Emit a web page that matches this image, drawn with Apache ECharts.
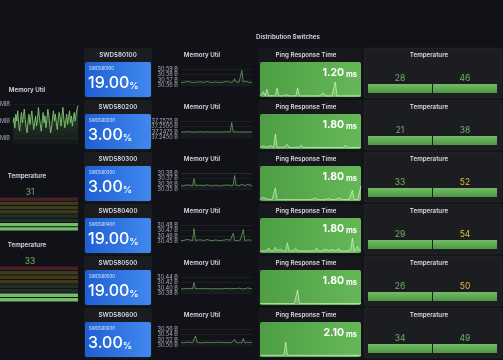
<!DOCTYPE html>
<html><head><meta charset="utf-8">
<script src="https://cdn.jsdelivr.net/npm/echarts@6/dist/echarts.min.js"></script>
<style>html,body{margin:0;padding:0;background:#111217;overflow:hidden}#c{width:503px;height:360px}</style>
</head><body><div id="c"></div>
<script>
// ---------------- data ----------------
const dashboardTitle = 'Distribution Switches';
const switchIds = ['SWD580100','SWD580200','SWD580300','SWD580400','SWD580500','SWD580600'];
const cpuUtil = [19, 3, 3, 19, 19, 3];            // %
const pingNow = [1.20, 1.80, 1.80, 1.80, 1.80, 2.10]; // ms
const tempA = [28, 21, 33, 29, 26, 34];
const tempB = [46, 38, 52, 54, 50, 49];
const tempThresholds = [50, 85];                  // yellow from 50, red from 85
const leftTemps = [31, 33];
const lcdCells = 8;
const lcdMax = 100;

// memory util axis ticks (min, step, decimals); 4 ticks each
const memMin = [30.56, 37.2450, 30.35, 30.45, 30.38, 30.50];
const memStep = [0.01, 0.0025, 0.01, 0.01, 0.02, 0.02];
const memDec = [2, 4, 2, 2, 2, 2];
const memTickCount = 4;

const mem1 = [30.565,30.566,30.565,30.566,30.567,30.565,30.566,30.565,30.565,30.566,30.565,30.567,30.566,30.565,30.566,30.565,30.565,30.566,30.567,30.566,30.565,30.566,30.565,30.565,30.566,30.567,30.565,30.566,30.565,30.566,30.566,30.565,30.567,30.566,30.565,30.565,30.566,30.572,30.566,30.565,30.565,30.566,30.588,30.566,30.565,30.567,30.566,30.565,30.566,30.565];
const mem2 = [37.2474,37.2475,37.2474,37.2475,37.2476,37.2474,37.2475,37.2474,37.2474,37.2475,37.2474,37.2476,37.2475,37.2474,37.2475,37.2474,37.2474,37.2475,37.2476,37.2475,37.2474,37.2475,37.2474,37.2474,37.2475,37.2476,37.2474,37.2475,37.2474,37.2475,37.2475,37.2474,37.2476,37.2475,37.2474,37.2520,37.2475,37.2474,37.2475,37.2474,37.2474,37.2475,37.2474,37.2475,37.2474,37.2476,37.2475,37.2474,37.2475,37.2474];
const mem3 = [30.356,30.357,30.356,30.357,30.358,30.356,30.357,30.356,30.356,30.370,30.356,30.358,30.357,30.356,30.357,30.356,30.356,30.357,30.358,30.357,30.356,30.357,30.356,30.356,30.357,30.358,30.356,30.357,30.356,30.357,30.357,30.356,30.358,30.357,30.356,30.356,30.357,30.376,30.357,30.356,30.356,30.357,30.359,30.357,30.356,30.358,30.359,30.356,30.357,30.356];
const mem4 = [30.451,30.452,30.451,30.452,30.453,30.451,30.452,30.451,30.451,30.474,30.451,30.453,30.452,30.451,30.452,30.451,30.451,30.452,30.453,30.452,30.451,30.452,30.451,30.451,30.452,30.453,30.451,30.452,30.451,30.452,30.452,30.451,30.453,30.452,30.451,30.451,30.465,30.451,30.452,30.451,30.451,30.452,30.451,30.472,30.451,30.453,30.452,30.451,30.452,30.451];
const mem5 = [30.396,30.397,30.396,30.397,30.398,30.396,30.397,30.396,30.396,30.420,30.396,30.398,30.397,30.396,30.397,30.396,30.396,30.397,30.398,30.397,30.396,30.397,30.396,30.396,30.397,30.398,30.396,30.397,30.396,30.397,30.397,30.396,30.398,30.397,30.396,30.396,30.397,30.396,30.397,30.396,30.399,30.397,30.396,30.397,30.396,30.398,30.400,30.396,30.397,30.396];
const mem6 = [30.509,30.510,30.509,30.510,30.511,30.509,30.510,30.509,30.509,30.510,30.535,30.511,30.510,30.509,30.510,30.509,30.509,30.510,30.511,30.510,30.509,30.510,30.509,30.509,30.510,30.511,30.509,30.510,30.509,30.510,30.510,30.509,30.511,30.510,30.509,30.509,30.510,30.522,30.510,30.509,30.509,30.510,30.509,30.525,30.509,30.511,30.510,30.509,30.510,30.509];
const memSeries = [mem1, mem2, mem3, mem4, mem5, mem6];

const ping1 = [1.2,1.3,8.7,1.2,13.0,1.3,1.2,1.5,1.2,1.3,15.2,1.2,1.3,1.2,1.5,3.3,1.2,1.3,1.2,1.2,1.3,1.2,15.2,1.3,1.2,1.2,1.5,1.2,1.3,1.2,2.6,1.2,1.3,1.2,1.2,1.5,1.2,6.5,1.3,1.2,1.2,1.3,1.2,1.5,26.0,1.3,1.2,1.2,1.3,1.2,1.5,1.2,3.3,1.2,1.3,1.2,1.2,1.3,1.2,1.2];
const ping2 = [1.8,1.9,4.4,1.8,1.9,1.8,4.6,1.9,1.8,24.0,1.9,1.8,2.0,1.8,1.9,1.8,6.6,1.8,1.9,1.8,1.8,1.9,1.8,2.0,5.5,1.8,1.9,1.8,1.8,1.9,1.8,2.0,1.8,1.9,1.8,1.8,1.9,1.8,4.4,1.8,1.9,1.8,1.8,2.0,1.8,1.9,1.8,1.8,1.9,1.8,5.5,1.8,1.9,1.8,1.8,1.9,4.4,1.8,1.9,1.8];
const ping3 = [1.8,6.0,1.9,5.0,1.8,1.9,6.0,1.8,1.9,26.0,1.8,1.9,1.8,2.0,1.8,4.2,1.9,1.8,1.8,1.9,1.8,4.0,1.8,1.9,1.8,2.0,1.8,1.9,1.8,1.8,1.9,1.8,5.0,1.8,1.9,1.8,1.8,2.0,1.8,1.9,4.2,1.8,1.9,1.8,1.8,1.9,5.0,1.8,1.9,1.8,2.0,1.8,1.9,1.8,21.4,1.8,1.9,2.0,1.8,30.0];
const ping4 = [2.5,5.8,2.6,4.2,3.0,7.5,2.6,3.4,2.5,8.8,2.7,3.2,6.0,2.6,3.8,2.5,16.0,2.8,4.4,2.6,3.1,6.4,2.5,3.6,2.7,5.2,2.6,3.0,2.5,4.6,2.8,3.3,2.6,7.0,2.5,3.9,2.7,3.0,5.6,2.6,3.2,2.5,4.8,2.8,3.0,2.6,6.2,2.7,3.4,2.5,4.0,2.8,3.1,5.4,24.0,3.0,2.6,10.0,3.2,2.7];
const ping5 = [1.8,1.9,1.8,1.8,1.9,1.8,1.8,1.9,1.8,1.8,1.9,1.8,1.8,1.9,1.8,1.8,1.9,1.8,1.8,1.9,1.8,1.8,26.0,1.8,1.9,1.8,1.8,1.9,1.8,1.8,1.9,1.8,1.8,1.9,2.6,1.8,2.8,1.8,1.9,1.8,1.8,1.9,1.8,1.8,1.9,1.8,1.8,1.9,1.8,1.8,1.9,1.8,1.8,1.9,1.8,1.8,1.9,1.8,1.8,1.9];
const ping6 = [2.1,2.1,2.2,2.1,2.1,2.2,2.1,2.1,2.2,2.1,2.1,2.2,2.1,2.1,2.2,25.2,2.1,2.1,2.2,2.1,2.1,2.2,2.1,2.1,2.2,2.1,2.1,2.2,2.1,2.1,2.2,2.1,2.1,2.2,2.1,2.1,2.2,2.1,2.1,2.2,2.1,2.1,2.2,2.1,2.1,2.2,2.1,2.1,2.2,2.1,2.1,2.2,2.1,2.1,2.2,2.1,2.1,2.2,2.1,2.1];
const pingSeries = [ping1, ping2, ping3, ping4, ping5, ping6];

// left overview memory util (MiB)
const leftMemTicks = [500, 510, 520];
const leftMem = [509,512,506,514,510,516,508,504,511,515,509,513,517,511,506,503,510,514,508,512,516,510,505,509,513,507,511,518,512,508,504,510,515,509,513,506,511,517,513,508,503,507,512,516,510,514,509,505,511,515,512,507,513,518,511,506,510,514,508,512,516,509,513,507,511,515,510,514,517,519];

// ---------------- build ----------------
const FONT = 'Inter, "Noto Sans", sans-serif';
const TXT = '#d8d9e3';
const GREEN = '#73bf69', YELLOW = '#fade2a', RED = '#f2495c';
const grids = [], xAxes = [], yAxes = [], series = [], graphics = [];
function addGrid(g, xa, ya) {
  grids.push(Object.assign({outerBoundsMode: 'none', containLabel: false}, g));
  const i = grids.length - 1;
  xAxes.push(Object.assign({gridIndex: i}, xa));
  yAxes.push(Object.assign({gridIndex: i}, ya));
  return i;
}
function text(t, x, y, o) {
  graphics.push({type: 'text', z: 5, style: Object.assign({text: t, x: x, y: y, fill: TXT,
    font: '600 6.2px ' + FONT, align: 'center', verticalAlign: 'middle'}, o || {})});
}
function rect(x, y, w, h, fill, o) {
  graphics.push({type: 'rect', z: 0, shape: {x: x, y: y, width: w, height: h, r: (o && o.r) || 2},
    style: Object.assign({fill: fill}, (o && o.style) || {})});
}
const hidX = {type: 'category', show: false, boundaryGap: false};
function memFmt(d) { return v => v.toFixed(d) + ' B'; }
const noLine = {axisLine: {show: false}, axisTick: {show: false}};

text(dashboardTitle, 288, 37);

for (let r = 0; r < 6; r++) {
  const top = 48 + 52 * r;
  // stat panel
  rect(84, top, 68, 50, '#1a1c20');
  text(switchIds[r], 118, top + 7);
  rect(85, top + 14, 66, 35, {type: 'linear', x: 0, y: 0, x2: 1, y2: 0,
    colorStops: [{offset: 0, color: '#1f5fd4'}, {offset: 1, color: '#4088ee'}]});
  text(switchIds[r], 89, top + 21, {align: 'left', font: '500 4.2px ' + FONT, fill: 'rgba(255,255,255,0.75)'});
  text('{v|' + cpuUtil[r].toFixed(2) + '}{u|%}', 88, top + 34, {align: 'left',
    rich: {v: {fill: '#fff', fontSize: 16, fontWeight: 500, fontFamily: FONT, lineHeight: 19, verticalAlign: 'bottom'},
           u: {fill: '#fff', fontSize: 9.5, fontWeight: 500, fontFamily: FONT, lineHeight: 17, verticalAlign: 'bottom'}}});

  // memory util
  text('Memory Util', 202, top + 7);
  const gTop = top + 21.5, gH = 15.5, n = memTickCount - 1;
  const mMin = memMin[r], mStep = memStep[r], mMax = mMin + n * mStep;
  const mg = addGrid({left: 181, top: gTop, width: 71, height: gH},
    Object.assign({}, hidX, {data: memSeries[r].map((_, i) => i)}),
    Object.assign({type: 'value', min: mMin, max: mMax, interval: mStep,
     axisLabel: {show: false},
     splitLine: {lineStyle: {color: 'rgba(204,204,220,0.13)', width: 0.6}}}, noLine));
  series.push({type: 'line', xAxisIndex: mg, yAxisIndex: mg, data: memSeries[r], symbol: 'none',
    lineStyle: {color: 'rgba(115,191,105,0.8)', width: 0.8}, areaStyle: {color: 'rgba(115,191,105,0.08)'}});
  // tick labels on two interleaved label-only axes (every second tick each) so none collide
  [0, 1].forEach(k => {
    const lo = mMin + k * mStep, hi = lo + 2 * mStep;
    const tickPx = gH / n;
    addGrid({left: 181, top: gTop + (n - 2 - k) * tickPx, width: 71, height: 2 * tickPx},
      {type: 'category', show: false, data: ['a']},
      Object.assign({type: 'value', min: lo, max: hi, interval: 2 * mStep, splitLine: {show: false},
        axisLabel: {fontSize: 5.6, fontFamily: FONT, color: 'rgba(204,204,220,0.8)', margin: 3,
          showMinLabel: true, showMaxLabel: true, formatter: memFmt(memDec[r])}}, noLine));
  });

  // ping panel
  rect(258, top, 104, 50, '#16181b');
  text('Ping Response Time', 306, top + 7);
  rect(260, top + 14, 101, 35, {type: 'linear', x: 0, y: 0, x2: 1, y2: 0,
    colorStops: [{offset: 0, color: '#4e9f44'}, {offset: 1, color: '#66b758'}]});
  text('{v|' + pingNow[r].toFixed(2) + '}{u| ms}', 357, top + 24, {align: 'right',
    rich: {v: {fill: '#fff', fontSize: 10.5, fontWeight: 700, fontFamily: FONT, lineHeight: 13, verticalAlign: 'bottom'},
           u: {fill: '#fff', fontSize: 7.5, fontWeight: 700, fontFamily: FONT, lineHeight: 12, verticalAlign: 'bottom'}}});
  const pg = addGrid({left: 260, top: top + 34, width: 101, height: 14.5},
    Object.assign({}, hidX, {data: pingSeries[r].map((_, i) => i)}),
    {type: 'value', show: false, min: 0, max: 'dataMax'});
  series.push({type: 'line', xAxisIndex: pg, yAxisIndex: pg, data: pingSeries[r], symbol: 'none',
    lineStyle: {color: 'rgba(225,255,215,0.6)', width: 1}, areaStyle: {color: 'rgba(225,255,215,0.3)'}});

  // temperature panel
  rect(364, top, 138, 50, '#1b1d21', {style: {stroke: 'rgba(204,204,220,0.06)', lineWidth: 1}});
  text('Temperature', 429, top + 7);
  [[368, tempA[r]], [433, tempB[r]]].forEach(([x, v]) => {
    const tg = addGrid({left: x, top: top + 36, width: 64, height: 9},
      {type: 'category', show: false, data: ['t']},
      {type: 'value', show: false, min: 0, max: 'dataMax'});
    series.push({type: 'bar', xAxisIndex: tg, yAxisIndex: tg, barWidth: '100%',
      itemStyle: {color: {type: 'linear', x: 0, y: 0, x2: 0, y2: 1,
        colorStops: [{offset: 0, color: '#72bd64'}, {offset: 1, color: '#4f9645'}]}},
      label: {show: true, position: 'top', distance: 1, fontSize: 8.5, fontFamily: FONT},
      data: [{value: v, label: {color: v >= tempThresholds[0] ? '#e3bd3c' : '#6fb062'}}]});
  });
}

// ---------- left overview column ----------
text('Memory Util', 27, 90);
const lg1 = addGrid({left: 13, top: 104, width: 65, height: 34},
  {type: 'category', show: false, data: ['a', 'b']},
  Object.assign({type: 'value', min: leftMemTicks[0], max: leftMemTicks[leftMemTicks.length - 1], interval: leftMemTicks[1] - leftMemTicks[0],
   splitLine: {lineStyle: {color: 'rgba(204,204,220,0.1)', width: 0.6}},
   axisLabel: {fontSize: 5.6, fontFamily: FONT, color: 'rgba(204,204,220,0.8)', margin: 3, formatter: v => v + ' MiB'}}, noLine));
const pxPerUnit = 34 / (leftMemTicks[leftMemTicks.length - 1] - leftMemTicks[0]);
const lg2 = addGrid({left: 13, top: 100, width: 65, height: 45},
  Object.assign({}, hidX, {data: leftMem.map((_, i) => i)}),
  {type: 'value', show: false, min: leftMemTicks[0] - 7 / pxPerUnit, max: leftMemTicks[leftMemTicks.length - 1] + 4 / pxPerUnit});
series.push({type: 'line', xAxisIndex: lg2, yAxisIndex: lg2, data: leftMem, symbol: 'none',
  lineStyle: {color: '#7fc971', width: 0.9},
  areaStyle: {color: {type: 'linear', x: 0, y: 0, x2: 0, y2: 1,
    colorStops: [{offset: 0, color: 'rgba(115,191,105,0.45)'}, {offset: 1, color: 'rgba(115,191,105,0.03)'}]}}});

function cellColor(i, v) {
  const mid = (i + 0.5) * lcdMax / lcdCells;
  const lit = (i + 1) * lcdMax / lcdCells <= v;
  if (mid >= tempThresholds[1]) return lit ? RED : 'rgba(242,73,92,0.26)';
  if (mid >= tempThresholds[0]) return lit ? YELLOW : 'rgba(250,222,42,0.2)';
  return lit ? GREEN : 'rgba(115,191,105,0.17)';
}
[[176, 197, 34], [245, 266, 36]].forEach(([ty, gy, gh], k) => {
  text('Temperature', 27, ty);
  text(String(leftTemps[k]), 30, ty + 16, {font: '400 8.5px ' + FONT, fill: '#6fb062'});
  const cells = Array.from({length: lcdCells}, (_, i) => i);
  const g = addGrid({left: 0, top: gy, width: 78, height: gh},
    {type: 'value', show: false, min: 0, max: 1},
    {type: 'category', show: false, data: cells});
  series.push({type: 'bar', xAxisIndex: g, yAxisIndex: g, barCategoryGap: '22%',
    data: cells.map(i => ({value: 1, itemStyle: {color: cellColor(i, leftTemps[k])}}))});
});

const chart = echarts.init(document.getElementById('c'), null, {renderer: 'canvas'});
chart.setOption({backgroundColor: '#111217', animation: false,
  grid: grids, xAxis: xAxes, yAxis: yAxes, series: series, graphic: graphics});
</script></body></html>
